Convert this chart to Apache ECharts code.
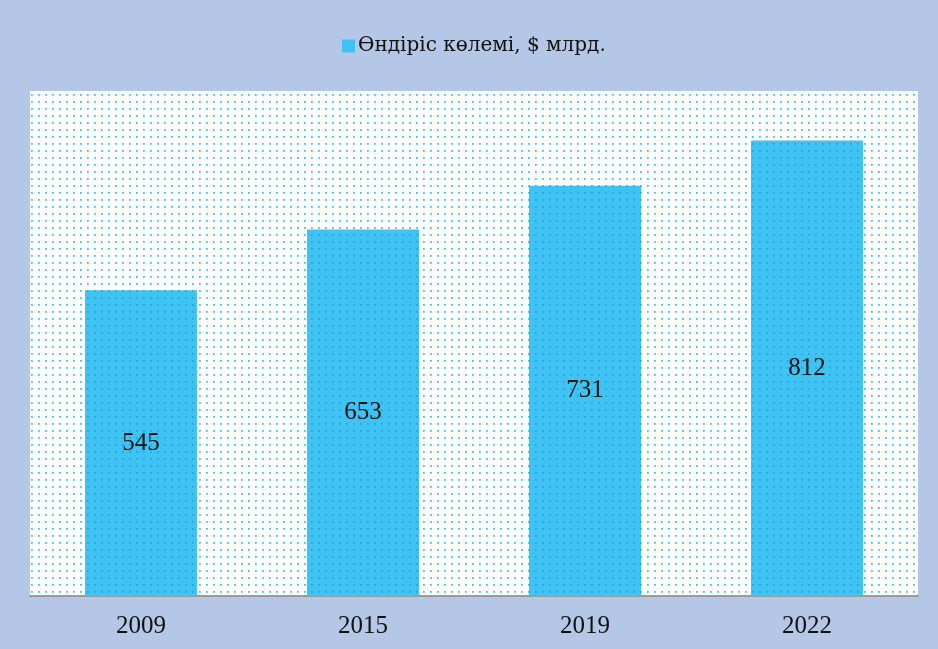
<!DOCTYPE html>
<html>
<head>
<meta charset="utf-8">
<script src="https://cdn.jsdelivr.net/npm/echarts@6/dist/echarts.min.js"></script>
<style>
  html, body { margin: 0; padding: 0; background: #b4c7e7; }
  #chart { width: 938px; height: 649px; }
</style>
</head>
<body>
<div id="chart"></div>
<script>
const years = ['2009', '2015', '2019', '2022'];
const volumes = [545, 653, 731, 812];
const seriesName = 'Өндіріс көлемі, $ млрд.';

// dotted fill, like the office "5%" pattern
function dots(bg, dot) {
  const c = document.createElement('canvas');
  c.width = 7; c.height = 7;
  const ctx = c.getContext('2d');
  ctx.fillStyle = bg;
  ctx.fillRect(0, 0, 7, 7);
  ctx.fillStyle = dot;
  ctx.fillRect(3, 3, 1.8, 1.8);
  return c;
}

const chart = echarts.init(document.getElementById('chart'));
chart.setOption({
  backgroundColor: '#b4c7e7',
  animation: false,
  legend: {
    top: 31,
    left: 337,
    itemWidth: 13,
    itemHeight: 13,
    itemGap: 4,
    icon: 'rect',
    itemStyle: { color: '#3ec3f3' },
    textStyle: { fontFamily: 'DejaVu Serif', fontSize: 20, color: '#111', padding: [0, 0, 0, -2] },
    data: [seriesName]
  },
  grid: {
    left: 30, right: 20, top: 91, bottom: 53,
    show: true,
    borderWidth: 0,
    backgroundColor: { image: dots('#ffffff', '#3ec3f3'), repeat: 'repeat' }
  },
  xAxis: {
    type: 'category',
    data: years,
    axisTick: { show: false },
    axisLine: { lineStyle: { color: '#9a9a9a', width: 2 } },
    axisLabel: { fontFamily: 'Liberation Serif', fontSize: 25, color: '#111', margin: 18 }
  },
  yAxis: {
    type: 'value',
    min: 0, max: 900,
    show: false,
    splitLine: { show: false }
  },
  series: [{
    name: seriesName,
    type: 'bar',
    barWidth: 112,
    data: volumes,
    itemStyle: { color: { image: dots('#3ec3f3', '#28a6e2'), repeat: 'repeat' } },
    label: {
      show: true,
      position: 'inside',
      fontFamily: 'Liberation Serif',
      fontSize: 25,
      color: '#111'
    }
  }],
  color: ['#3ec3f3']
});
</script>
</body>
</html>
